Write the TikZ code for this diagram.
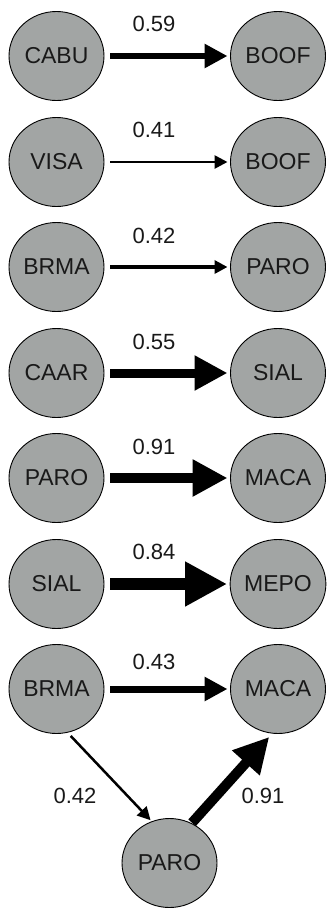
\documentclass[tikz,border=0pt]{standalone}
\usepackage{fontspec}
\setmainfont{Liberation Sans}
\usetikzlibrary{shapes.geometric,arrows.meta}
\definecolor{nodegray}{RGB}{162,165,164}
\definecolor{inkc}{RGB}{25,25,25}
\begin{document}
\begin{tikzpicture}[x=1pt,y=-1pt,
  species/.style={ellipse,draw=black,line width=0.9pt,fill=nodegray,text=inkc,
    minimum width=95pt,minimum height=89pt,inner sep=0pt,outer sep=0pt,
    font=\fontsize{23}{27}\selectfont},
  wlabel/.style={font=\fontsize{22}{26}\selectfont,inner sep=0pt,text=inkc},
  link/.style 2 args={line width=#1,-{Triangle[length=#2,width=#2]},
    shorten <=6pt,shorten >=3pt}]
\useasboundingbox (0,0) rectangle (327,913);
% nodes
\node[species] (l1) at (56.5,56) {CABU};
\node[species] (r1) at (278,56) {BOOF};
\node[species] (l2) at (56.5,162) {VISA};
\node[species] (r2) at (278,162) {BOOF};
\node[species] (l3) at (56.5,267) {BRMA};
\node[species] (r3) at (278,267) {PARO};
\node[species] (l4) at (56.5,373) {CAAR};
\node[species] (r4) at (278,373) {SIAL};
\node[species] (l5) at (56.5,478) {PARO};
\node[species] (r5) at (278,478) {MACA};
\node[species] (l6) at (56.5,584) {SIAL};
\node[species] (r6) at (278,584) {MEPO};
\node[species] (l7) at (56.5,689) {BRMA};
\node[species] (r7) at (278,689) {MACA};
\node[species] (p8) at (169.5,863) {PARO};
% connectors
\draw[link={5.7pt}{23pt}] (l1) -- (r1);
\draw[link={2.7pt}{13pt}] (l2) -- (r2);
\draw[link={3.3pt}{13pt}] (l3) -- (r3);
\draw[link={9pt}{33pt}] (l4) -- (r4);
\draw[link={10pt}{35pt}] (l5) -- (r5);
\draw[link={12pt}{42pt}] (l6) -- (r6);
\draw[link={7pt}{23pt}] (l7) -- (r7);
\draw[link={2.5pt}{13pt},shorten <=5pt,shorten >=2pt] (l7.284) -- (p8.113);
\draw[link={10pt}{35pt},shorten <=1pt,shorten >=5pt] (p8.61) -- (r7.263);
% labels
\node[wlabel] (w1) at (154,24) {0.59};
\node[wlabel] (w2) at (154,130) {0.41};
\node[wlabel] (w3) at (154,236) {0.42};
\node[wlabel] (w4) at (154,342) {0.55};
\node[wlabel] (w5) at (154,447) {0.91};
\node[wlabel] (w6) at (154,552) {0.84};
\node[wlabel] (w7) at (154,662) {0.43};
\node[wlabel] (w8) at (75,796) {0.42};
\node[wlabel] (w9) at (263,796) {0.91};
\end{tikzpicture}
\end{document}
